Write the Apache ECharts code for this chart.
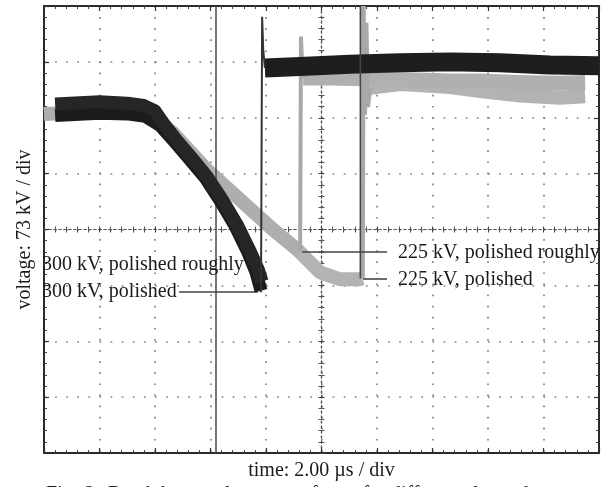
<!DOCTYPE html>
<html><head><meta charset="utf-8">
<script src="https://cdn.jsdelivr.net/npm/echarts@6/dist/echarts.min.js"></script>
<style>html,body{margin:0;padding:0;background:#fff;}#c{width:610px;height:487px;}</style>
</head><body><div id="c"></div>
<script>
// time axis: 2 µs/div, 10 divisions; voltage axis: 73 kV/div, 8 divisions
const timeMin = -10, timeMax = 10, timeStep = 2;
const voltMin = -292, voltMax = 292, voltStep = 73;

const traceNames = ['300 kV, polished roughly', '300 kV, polished', '225 kV, polished roughly', '225 kV, polished'];

// 300 kV traces (µs, kV)
const v300Rough = [[-9.6,164],[-8.0,167],[-7.0,165],[-6.40,162],[-6.00,155],[-5.72,140],[-5.18,115],[-4.64,92],[-4.10,68],[-3.56,38],[-3.02,5],[-2.55,-30],[-2.28,-52],[-2.14,-68]];
const v300Polished = [[-9.6,149],[-8.0,152],[-7.0,151],[-6.36,148],[-5.82,136],[-5.28,114],[-4.74,91],[-4.20,68],[-3.66,38],[-3.12,5],[-2.65,-30],[-2.36,-56],[-2.18,-80]];
const v300Jump = [[-2.18,-82],[-2.14,278],[-2.10,235],[-2.04,211]];
const v300After = [[-2.04,211],[-0.77,213],[1.03,216],[2.83,218],[4.63,219],[6.43,218],[8.23,215],[10,214]];

// 225 kV traces (µs, kV)
const v225Rough = [[-10,151],[-8.0,154],[-6.54,154],[-6.18,150],[-5.35,126],[-4.13,78],[-2.94,39],[-1.75,0],[-0.88,-26],[-0.77,-29]];
const v225RoughJump = [[-0.77,-29],[-0.74,252],[-0.70,215],[-0.66,198]];
const v225RoughAfter = [[-0.66,198],[0.31,198],[1.50,197],[2.83,196],[4.63,194],[5.71,194],[7.15,192],[8.59,191],[9.50,192]];
const v225Polished = [[-10,151],[-8.0,154],[-6.54,154],[-6.18,150],[-5.35,126],[-4.13,78],[-2.94,39],[-1.75,0],[-0.88,-26],[-0.05,-56],[0.67,-65],[1.39,-65],[1.47,-64]];
const v225PolishedJump = [[1.47,-64],[1.50,292],[1.55,150],[1.60,270],[1.66,160],[1.74,185]];
const v225PolishedAfter = [[1.74,185],[2.83,190],[4.63,186],[5.71,181],[7.15,175],[8.59,172],[9.50,174]];

const cursorTime = -3.8;

const chart = echarts.init(document.getElementById('c'), null, {renderer:'canvas'});
const FONT = '"Liberation Serif", "Times New Roman", serif';
const gridRect = {left:44, top:6, width:555, height:447};

function frameAxis(kind, pos, extra) {
  const isX = kind === 'x';
  return Object.assign({
    type:'value', gridIndex:0, position:pos,
    min: isX ? timeMin : voltMin, max: isX ? timeMax : voltMax, interval: isX ? timeStep : voltStep,
    axisLine:{show:true, onZero:false, lineStyle:{color:'#2a2a2a', width:2}},
    axisTick:{show:true, inside:true, length:5, lineStyle:{color:'#333', width:1.2}},
    minorTick:{show:true, splitNumber:5, length:3, lineStyle:{color:'#444', width:1}},
    axisLabel:{show:false}, splitLine:{show:false}
  }, extra || {});
}
function centerAxis(kind, g, inside) {
  const isX = kind === 'x';
  return {
    type:'value', gridIndex:g, position: isX ? 'bottom' : 'left',
    min: isX ? timeMin : voltMin, max: isX ? timeMax : voltMax, interval: isX ? timeStep : voltStep,
    axisLine:{show:true, onZero:true, lineStyle:{color:'#555', width:1.2, type:[2,3]}},
    axisTick:{show:true, inside:inside, length:3, lineStyle:{color:'#444', width:1}},
    minorTick:{show:true, splitNumber:5, length:3, lineStyle:{color:'#555', width:1}},
    axisLabel:{show:false}, splitLine:{show:false}
  };
}
const gridSplit = {show:true, lineStyle:{color:'#808080', width:1.7, type:[1.7, 9.4]}};

function band(name, data, color, width, z) {
  return {type:'line', name, data, xAxisIndex:0, yAxisIndex:0, showSymbol:false, symbol:'none', smooth:false,
    lineStyle:{color, width, join:'round', cap:'butt'}, z, silent:true, animation:false};
}
function thin(name, data, color, width, z) {
  return {type:'line', name, data, xAxisIndex:0, yAxisIndex:0, showSymbol:false, symbol:'none',
    lineStyle:{color, width, join:'miter'}, z, silent:true, animation:false};
}
const leaderStyle = {color:'#444', width:1.6, type:'solid'};
const labelFont = '20px ' + FONT;

const option = {
  backgroundColor:'#ffffff',
  animation:false,
  grid:[Object.assign({}, gridRect), Object.assign({}, gridRect), Object.assign({}, gridRect)],
  xAxis:[
    frameAxis('x','bottom',{name:'time: 2.00 µs / div', nameLocation:'middle', nameGap:8,
      nameTextStyle:{fontFamily:FONT, fontSize:20, color:'#1a1a1a', verticalAlign:'top'}, splitLine:gridSplit}),
    frameAxis('x','top'),
    centerAxis('x',1,false),
    centerAxis('x',2,true)
  ],
  yAxis:[
    frameAxis('y','left',{name:'voltage: 73 kV / div', nameLocation:'middle', nameGap:9, nameRotate:90,
      nameTextStyle:{fontFamily:FONT, fontSize:20, color:'#1a1a1a'}, splitLine:gridSplit}),
    frameAxis('y','right'),
    centerAxis('y',1,false),
    centerAxis('y',2,true)
  ],
  series:[
    band(traceNames[3], v225Polished, '#b3b3b3', 14, 3),
    band(traceNames[3]+' after', v225PolishedAfter, '#b3b3b3', 14, 3),
    band(traceNames[2], v225Rough, '#aeaeae', 13, 3),
    band(traceNames[2]+' after', v225RoughAfter, '#b0b0b0', 15, 3),
    thin(traceNames[2]+' jump', v225RoughJump, '#a8a8a8', 4, 4),
    thin(traceNames[3]+' jump', v225PolishedJump, '#a8a8a8', 5, 4),
    Object.assign(band(traceNames[1], v300Polished, '#1c1c1c', 13, 5), {
      markLine:{silent:true, symbol:'none', label:{show:false}, animation:false,
        data:[
          [{coord:[-5.13,-81], lineStyle:leaderStyle},{coord:[-2.29,-81]}],
          [{coord:[-0.70,-28.7], lineStyle:leaderStyle},{coord:[2.36,-28.7]}],
          [{coord:[1.50,-64], lineStyle:leaderStyle},{coord:[2.36,-64]}],
          [{coord:[cursorTime,voltMin], lineStyle:{color:'#4a4a4a', width:1.5, type:'solid'}},{coord:[cursorTime,voltMax]}]
        ]}
    }),
    band(traceNames[0], v300Rough, '#262626', 13, 5),
    band(traceNames[0]+' after', v300After, '#1e1e1e', 19, 6),
    thin(traceNames[0]+' jump', v300Jump, '#333', 2, 7),
    thin(traceNames[3]+' jump line', [[1.40,-64],[1.40,292]], '#444', 1.5, 7)
  ],
  graphic:[
    {type:'text', left:42, top:255, z:20, style:{text:traceNames[0], font:labelFont, fill:'#1a1a1a'}},
    {type:'text', left:42, top:282, z:20, style:{text:traceNames[1], font:labelFont, fill:'#1a1a1a'}},
    {type:'text', left:398, top:243, z:20, style:{text:traceNames[2], font:labelFont, fill:'#1a1a1a'}},
    {type:'text', left:398, top:270, z:20, style:{text:traceNames[3], font:labelFont, fill:'#1a1a1a'}},
    {type:'text', left:46, top:485, z:20, style:{text:'Fig. 6   Breakdown voltage waveforms for different electrodes', font:labelFont, fill:'#1a1a1a'}}
  ]
};
chart.setOption(option);
</script>
</body></html>
